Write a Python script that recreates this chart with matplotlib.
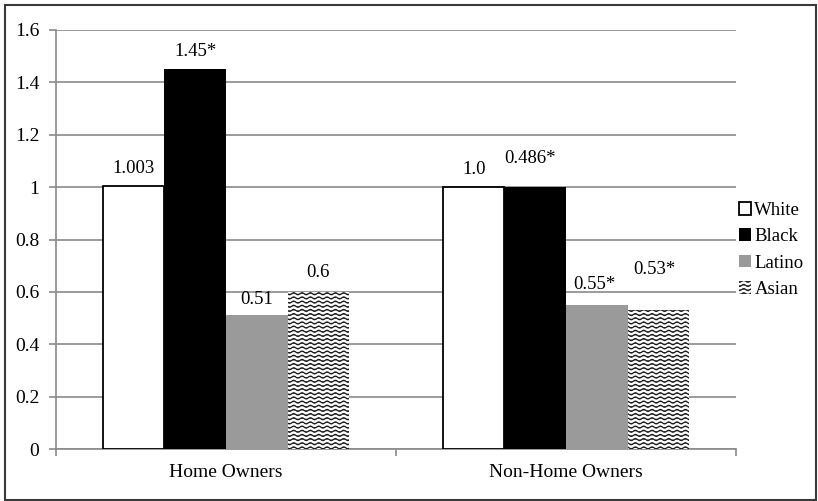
import numpy as np
import matplotlib
matplotlib.use("Agg")
import matplotlib.pyplot as plt
import matplotlib.hatch as mhatch
from matplotlib.patches import Rectangle
from matplotlib.path import Path

# Chart data
groups = ["Home Owners", "Non-Home Owners"]
races = ["White", "Black", "Latino", "Asian"]
white = [1.003, 1.0]
black = [1.45, 1.0]
latino = [0.51, 0.55]
asian = [0.6, 0.53]
white_labels = ["1.003", "1.0"]
black_labels = ["1.45*", "0.486*"]
latino_labels = ["0.51", "0.55*"]
asian_labels = ["0.6", "0.53*"]


class WaveHatch(mhatch.HatchPatternBase):
    """Horizontal wavy lines, drawn for the '~' hatch character."""
    n_pts = 97

    def __init__(self, hatch, density):
        self.num_lines = int(hatch.count("~") * density)
        self.num_vertices = self.num_lines * self.n_pts

    def set_vertices_and_codes(self, vertices, codes):
        xs = np.linspace(0, 1, self.n_pts)
        wave = 0.01 * np.sin(2 * np.pi * 12 * xs)
        cursor = 0
        for i in range(self.num_lines):
            y0 = (i + 0.5) / self.num_lines
            vertices[cursor:cursor + self.n_pts, 0] = xs
            vertices[cursor:cursor + self.n_pts, 1] = y0 + wave
            codes[cursor] = Path.MOVETO
            codes[cursor + 1:cursor + self.n_pts] = Path.LINETO
            cursor += self.n_pts


mhatch._hatch_types.append(WaveHatch)
mhatch._validate_hatch_pattern = lambda hatch: None

plt.rcParams["font.family"] = ["Liberation Serif", "DejaVu Serif"]
plt.rcParams["hatch.linewidth"] = 0.9

fig = plt.figure(figsize=(8.18, 5.01), dpi=100)
ax = fig.add_axes([56 / 818, 52 / 501, 680 / 818, 419 / 501])

x = np.arange(len(groups))
width = 0.181
grid_color = "#8a8a8a"

series = [
    (white, white_labels, dict(color="white", edgecolor="black", linewidth=1.3)),
    (black, black_labels, dict(color="black", linewidth=0)),
    (latino, latino_labels, dict(color="#9a9a9a", linewidth=0)),
    (asian, asian_labels, dict(color="white", edgecolor="#1a1a1a", linewidth=0, hatch="~~~~")),
]
# vertical offset (pixels) of each value label above its bar
label_dy = [[18, 18], [18, 29], [16, 20], [19, 41]]
label_dx = [[0, 0], [0, -5], [0, -2], [0, -4]]

for i, (vals, labels, style) in enumerate(series):
    pos = x + (i - 1.5) * width
    ax.bar(pos, vals, width, label=races[i], zorder=3, **style)
    for j in range(len(groups)):
        ax.annotate(labels[j], (pos[j], vals[j]),
                    xytext=(label_dx[i][j], label_dy[i][j]),
                    textcoords="offset pixels", ha="center", va="center",
                    fontsize=13.5, zorder=4)

ax.set_xlim(-0.5, 1.5)
ax.set_ylim(0, 1.6)
ax.set_yticks(np.arange(0, 1.61, 0.2))
ax.set_yticklabels(["0", "0.2", "0.4", "0.6", "0.8", "1", "1.2", "1.4", "1.6"])
ax.set_xticks(x)
ax.set_xticklabels(groups)
ax.set_xticks([-0.5, 0.5, 1.5], minor=True)
ax.tick_params(axis="x", which="major", length=0, pad=11, labelsize=14)
ax.tick_params(axis="x", which="minor", length=5, width=1.2, color=grid_color)
ax.tick_params(axis="y", length=5, width=1.2, color=grid_color, pad=7, labelsize=14)

ax.yaxis.grid(True, color=grid_color, linewidth=1.2, zorder=0)
ax.set_axisbelow(True)
for side in ["top", "right"]:
    ax.spines[side].set_visible(False)
for side in ["left", "bottom"]:
    ax.spines[side].set_color(grid_color)
    ax.spines[side].set_linewidth(1.2)

fig.legend(loc="center left", bbox_to_anchor=(731 / 818, 1 - 250 / 501),
           frameon=False, fontsize=13.5, handlelength=0.65, handleheight=0.65,
           handletextpad=0.2, labelspacing=0.5, borderaxespad=0)

fig.patches.append(Rectangle((5 / 818, 1 / 501), 811 / 818, 495 / 501,
                             transform=fig.transFigure, fill=False,
                             edgecolor="#3a3a3a", linewidth=1.5))

fig.savefig("out.png", dpi=100)
